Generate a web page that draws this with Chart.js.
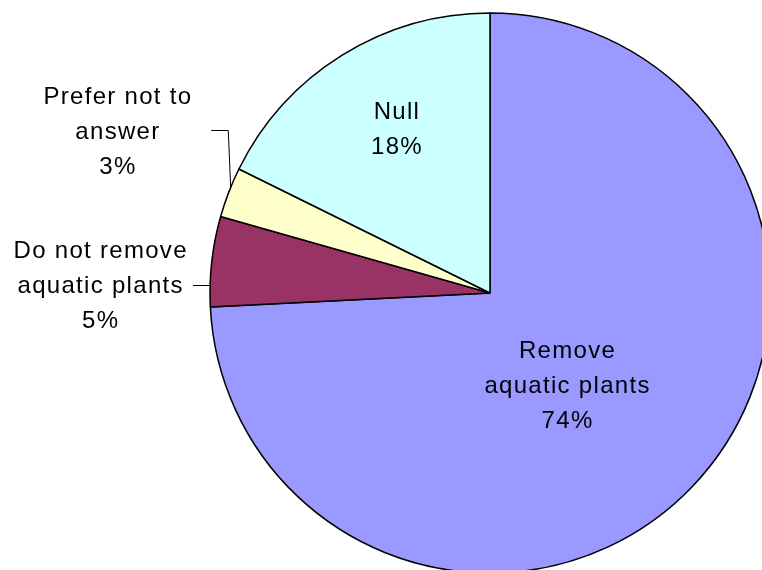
<!DOCTYPE html>
<html>
<head>
<meta charset="utf-8">
<script src="https://cdn.jsdelivr.net/npm/chart.js@4.4.1/dist/chart.umd.min.js"></script>
<style>
  html, body { margin: 0; padding: 0; background: #ffffff; overflow: hidden; }
  #wrap { width: 762px; height: 570px; }
</style>
</head>
<body>
<div id="wrap"><canvas id="c" width="762" height="570"></canvas></div>
<script>
// ---- data ----
const categories = ['Remove aquatic plants', 'Do not remove aquatic plants', 'Prefer not to answer', 'Null'];
const values = [74.2, 5.2, 2.9, 17.7];
const labelLines = [['Remove', 'aquatic plants'], ['Do not remove', 'aquatic plants'], ['Prefer not to', 'answer'], ['Null']];
const sliceColors = ['#9999FF', '#993366', '#FFFFCC', '#CCFFFF'];

// ---- label placement (relative to slice mid-angle, in degrees, and radius factor) ----
const placement = [
  { da: 6.85, f: 0.431 },
  { da: -5.5, f: 1.393, leader: 'horizontal', lx: 93, ly: -1 },
  { da: 2.3, f: 1.45, leader: 'elbow', lx: 94, ly: -2, ex: 111, endDa: 1.1 },
  { da: 2.0, f: 0.672 }
];

const FONT = '24px "Liberation Sans", Arial, sans-serif';
const LS = 1.3;
const LINE_H = 35;

const labelPlugin = {
  id: 'sliceLabels',
  afterDatasetsDraw(chart) {
    const ctx = chart.ctx;
    const meta = chart.getDatasetMeta(0);
    const total = values.reduce((a, b) => a + b, 0);
    ctx.save();
    meta.data.forEach((arc, i) => {
      const p = arc.getProps(['x', 'y', 'startAngle', 'endAngle', 'outerRadius'], true);
      const mid = (p.startAngle + p.endAngle) / 2;
      const pl = placement[i];
      const a = mid + pl.da * Math.PI / 180;
      const cx = p.x + Math.cos(a) * p.outerRadius * pl.f;
      const cy = p.y + Math.sin(a) * p.outerRadius * pl.f;
      const lines = labelLines[i].concat([Math.round(values[i] / total * 100) + '%']);
      ctx.fillStyle = '#000000';
      ctx.font = FONT;
      try { ctx.letterSpacing = LS + 'px'; } catch (e) {}
      ctx.textAlign = 'center';
      ctx.textBaseline = 'middle';
      const y0 = cy - (lines.length - 1) * LINE_H / 2;
      lines.forEach((t, k) => ctx.fillText(t, cx + LS / 2, y0 + k * LINE_H));
      // leader lines
      if (pl.leader) {
        ctx.strokeStyle = '#000000';
        ctx.lineWidth = 1;
        ctx.beginPath();
        const sx = cx + pl.lx, sy = Math.round(cy + pl.ly) + 0.5;
        ctx.moveTo(sx, sy);
        if (pl.leader === 'horizontal') {
          const dy = sy - p.y;
          const ex = p.x - Math.sqrt(p.outerRadius * p.outerRadius - dy * dy);
          ctx.lineTo(ex, sy);
        } else {
          const ea = mid + pl.endDa * Math.PI / 180;
          ctx.lineTo(cx + pl.ex, sy);
          ctx.lineTo(p.x + Math.cos(ea) * p.outerRadius, p.y + Math.sin(ea) * p.outerRadius);
        }
        ctx.stroke();
      }
    });
    ctx.restore();
  }
};

new Chart(document.getElementById('c'), {
  type: 'pie',
  data: {
    labels: categories,
    datasets: [{
      data: values,
      backgroundColor: sliceColors,
      borderColor: '#000000',
      borderWidth: 1.5,
      radius: 280,
      clip: false
    }]
  },
  options: {
    responsive: false,
    animation: false,
    layout: { padding: { left: 218, top: 16, right: 0, bottom: 0 } },
    plugins: {
      legend: { display: false },
      tooltip: { enabled: false }
    }
  },
  plugins: [labelPlugin]
});
</script>
</body>
</html>
